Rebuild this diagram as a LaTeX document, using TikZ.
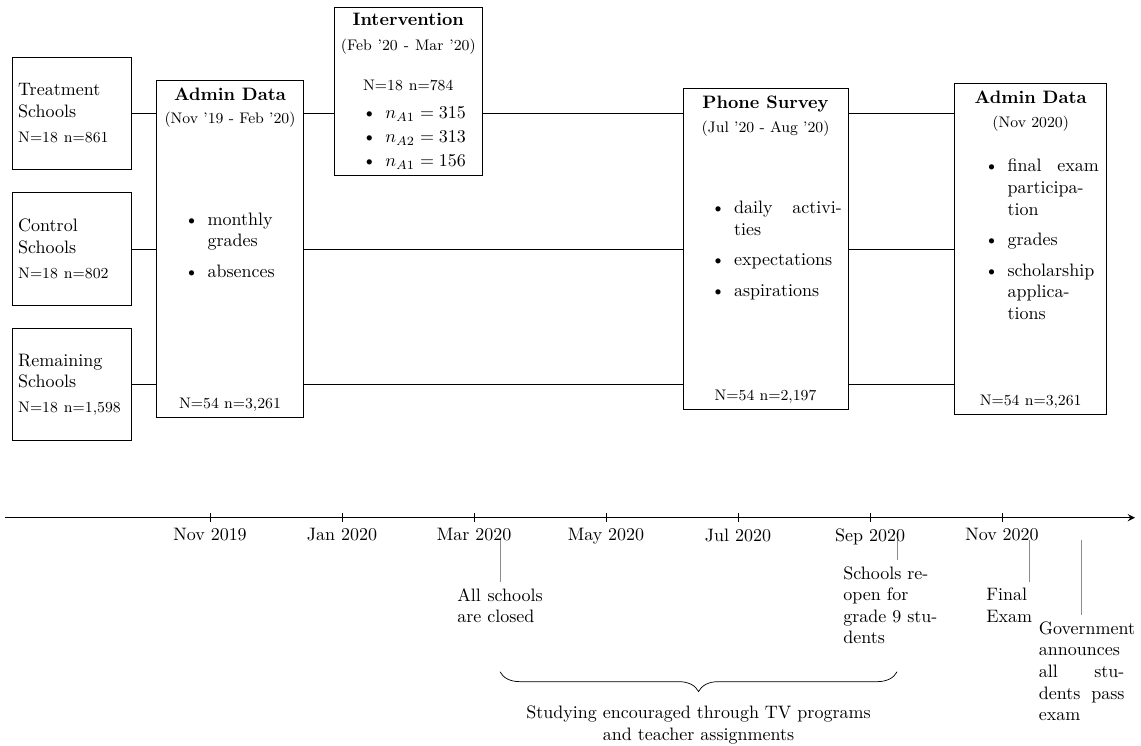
\documentclass[tikz,border=0pt]{standalone}
\usepackage{tikz}
\usetikzlibrary{positioning,decorations.pathreplacing}
\newcommand{\detail}{\fontsize{8.5pt}{10pt}\selectfont}
\newenvironment{boxitems}[2][1pt]
  {\begin{list}{\textbullet}{\setlength{\topsep}{#2}\setlength{\partopsep}{0pt}%
    \setlength{\parsep}{4pt}\setlength{\itemsep}{#1}\setlength{\leftmargin}{2.5em}%
    \setlength{\labelsep}{0.5em}\setlength{\labelwidth}{2em}}}
  {\end{list}}
\tikzset{school/.style={
    rectangle,draw=black,align=left,
    text width=2.1cm,minimum height=2.19cm}}
\tikzset{databox/.style={
    rectangle,draw=black,minimum height=6.6cm}}
\tikzset{itemtext/.style={align=justify}}
\tikzset{annot/.style={text width=1.67cm,align=justify}}
\tikzset{eventline/.style={draw=black!45}}
\tikzset{curly/.style={decorate,decoration={brace,mirror,amplitude=11pt}}}

\begin{document}
\begin{tikzpicture}[node distance=4.5mm]
  \useasboundingbox (0,0) rectangle (22.285,-14.551);

  % study groups
  \node (treat)   [school] at (1.406,-2.207) {Treatment Schools\\[2pt]{\detail N=18 n=861}};
  \node (control) [school,below=of treat]   {Control Schools\\[2pt]{\detail N=18 n=802}};
  \node (remain)  [school,below=of control] {Remaining Schools\\[2pt]{\detail N=18 n=1,598}};

  % data sources
  \node (admin1) [databox,right=4.7mm of control,minimum width=2.87cm] {};
  \node (admin1head) [below=1pt of admin1.north,align=center] {\textbf{Admin Data}\\[1pt]{\detail (Nov '19 - Feb '20)}};
  \node (admin1list) [itemtext,text width=2.635cm] at ([yshift=0.16cm]admin1.center) {
    \begin{boxitems}{0pt}
      \item monthly grades
      \item absences
    \end{boxitems}};
  \node (admin1n)    [above=0pt of admin1.south] {\detail N=54 n=3,261};

  \node (interv) [draw=black,anchor=north west,text width=2.655cm] at (6.523,-0.137) {
    {\centering\textbf{Intervention}\\[2pt]{\detail (Feb '20 - Mar '20)}\\[10pt]{\detail N=18 n=784}\par}
    \begin{boxitems}[-2.5pt]{3.5pt}
      \item $n_{A1}=315$
      \item $n_{A2}=313$
      \item $n_{A1}=156$
    \end{boxitems}};

  \node (phone) [databox,right=7.4cm of admin1,minimum width=3.22cm,minimum height=6.27cm] {};
  \node (phonehead) [below=1pt of phone.north,align=center] {\textbf{Phone Survey}\\[1pt]{\detail (Jul '20 - Aug '20)}};
  \node (phonelist) [itemtext,text width=2.985cm] at ([yshift=0.06cm]phone.center) {
    \begin{boxitems}{0pt}
      \item daily activities
      \item expectations
      \item aspirations
    \end{boxitems}};
  \node (phonen)    [above=0pt of phone.south] {\detail N=54 n=2,197};

  \node (admin2) [databox,right=2.07cm of phone,minimum width=2.97cm,minimum height=6.46cm] {};
  \node (admin2head) [below=1pt of admin2.north,align=center] {\textbf{Admin Data}\\[1pt]{\detail (Nov 2020)}};
  \node (admin2list) [itemtext,text width=2.66cm] at ([yshift=0.27cm]admin2.center) {
    \begin{boxitems}{0pt}
      \item final exam participation
      \item grades
      \item scholarship applications
    \end{boxitems}};
  \node (admin2n)    [above=0pt of admin2.south] {\detail N=54 n=3,261};

  % flow lines
  \draw (treat) -- (treat -| admin1.west);
  \draw (treat -| admin1.east) -- (treat -| interv.west);
  \draw (treat -| interv.east) -- (treat -| phone.west);
  \draw (treat -| phone.east) -- (treat -| admin2.west);
  \foreach \row in {control,remain} {
    \draw (\row) -- (\row -| admin1.west);
    \draw (\row -| admin1.east) -- (\row -| phone.west);
    \draw (\row -| phone.east) -- (\row -| admin2.west);
  }

  % timeline
  \coordinate (axisstart) at (0.098,-10.111);
  \coordinate (axisend)   at (22.168,-10.111);
  \draw [-stealth,thick] (axisstart) -- (axisend);
  \foreach \stamp [count=\i from 0] in {Nov 2019,Jan 2020,Mar 2020,May 2020,Jul 2020,Sep 2020,Nov 2020}
    \draw (4.102+2.578*\i,-10.021) -- (4.102+2.578*\i,-10.201) node (month\i) [below] {\stamp};

  % events
  \coordinate (closed)   at (9.766,-10.547);
  \coordinate (reopen)   at (17.52,-10.547);
  \coordinate (exam)     at (20.098,-10.547);
  \coordinate (announce) at (21.127,-10.547);
  \node (noteclosed)   [annot,below=0.82cm of closed]   {All schools are closed};
  \node (notereopen)   [annot,below=0.39cm of reopen,text width=2.1cm,align=left] {Schools reopen for grade 9 students};
  \node (noteexam)     [annot,below=0.82cm of exam]     {Final Exam};
  \node (noteannounce) [annot,below=1.47cm of announce] {Government announces all students pass exam};
  \foreach \ev in {closed,reopen,exam,announce}
    \draw [eventline] (\ev) -- (note\ev);

  \coordinate (bracestart) at (9.766,-13.12);
  \coordinate (braceend)   at (17.52,-13.12);
  \draw [curly] (bracestart) -- (braceend)
    node (studynote) [midway,below=0.55cm,align=center] {Studying encouraged through TV programs\\and teacher assignments};

\end{tikzpicture}
\end{document}
